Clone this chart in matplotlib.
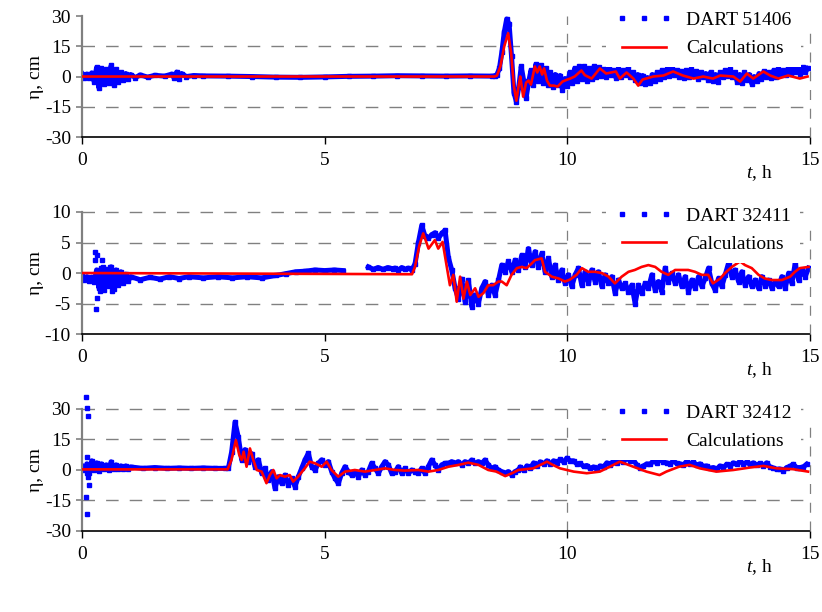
import numpy as np
import matplotlib
matplotlib.use('Agg')
import matplotlib.pyplot as plt
from matplotlib.lines import Line2D

plt.rcParams['font.family'] = ['Liberation Serif', 'DejaVu Serif']
plt.rcParams['mathtext.fontset'] = 'custom'
plt.rcParams['mathtext.rm'] = 'Liberation Serif'
plt.rcParams['mathtext.it'] = 'Liberation Serif:italic'
plt.rcParams['axes.unicode_minus'] = False

BLUE = '#0000ff'
RED = '#ff0000'
GRAY = '#808080'

# ---------------- DART 51406 ----------------
p1_obs_t = [0.0, 0.05, 0.1, 0.15, 0.2, 0.25, 0.3, 0.35, 0.4, 0.45, 0.5, 0.55, 0.6, 0.65, 0.7,
            0.75, 0.8, 0.85, 0.9, 0.95, 1.0, 1.1, 1.2, 1.35, 1.5, 1.7, 1.85, 1.9, 1.95, 2.0,
            2.05, 2.15, 2.3, 2.5, 3.0, 3.5, 4.0, 4.5, 5.0, 5.5, 6.0, 6.5, 7.0, 7.5, 8.0, 8.45]
p1_obs_v = [1.5, -0.5, 1.2, -0.8, 1.8, -2.5, 4.5, -5.8, 4.0, -3.5, 3.5, -3.0, 5.5, -4.0, 3.5,
            -2.5, 2.0, -1.5, 1.5, -1.0, 1.0, -0.5, 0.8, -0.3, 0.6, 0.2, 1.2, -0.8, 2.2, -1.0,
            1.5, 0.0, 0.5, 0.3, 0.2, 0.0, -0.3, -0.4, -0.2, 0.1, 0.2, 0.4, 0.3, 0.2, 0.3, 0.2]
# 8.50 ... 14.95 h, every 0.05 h
p1_wave_span = (8.5, 14.95)
p1_wave_v = [0.3, 1, 4, 12, 22, 28.5, 26, 10, -8, -12.5,
             -5, 5, -2, -10.5, -3, 3, -4, 6, -2, 5.5,
             -3, 4, -4, 2, -5, 1, -4, 0.5, -6.5, -1,
             -4.5, 2, -3, 4, -2, 5, -1, 5, -2, 4,
             -1, 5, 0, 4.5, 0.5, 3.5, 0, 4, 1, 3,
             -0.5, 3.5, 0, 3, 1, 4, 0, 2, -1.5, 1,
             -3, 0.5, -3.5, -0.5, -3, 1, -2, 2, -1, 3,
             0, 3.5, 0.5, 4, 1, 3, 0, 2.5, -0.5, 3,
             0, 3.5, 0.5, 2.5, -1, 2, 0, 1.5, -1.5, 2,
             -2, 1, -2.5, 2, 0, 3, 0.5, 3.5, 0, 2,
             -2.5, 1, -3, 2, -1.5, 1, -3.5, 0, -2, 1.5,
             -1, 2.5, 0, 2, -0.5, 3, 0, 3.5, 1, 3,
             1, 4, 1.5, 4, 2, 4.5, 1.5, 4.5, 2, 4]
p1_calc_t = [0, 8.5, 8.55, 8.62, 8.7, 8.78, 8.84, 8.9, 8.95, 9.0, 9.03, 9.09, 9.15, 9.2, 9.25,
             9.33, 9.38, 9.43, 9.48, 9.52, 9.58, 9.64, 9.72, 9.8, 9.9, 10.0, 10.06, 10.15,
             10.29, 10.36, 10.5, 10.67, 10.8, 11.0, 11.08, 11.22, 11.36, 11.46, 11.55, 11.77,
             11.98, 12.18, 12.38, 12.6, 12.8, 13.0, 13.15, 13.42, 13.56, 13.7, 13.83, 14.04,
             14.18, 14.35, 14.55, 14.79, 14.95]
p1_calc_v = [0, 0, 0.5, 5, 15, 21.5, 12, -5, -12, -4, 0, -10, -3, -2, -4,
             5, 2, 5, 1, 4, -2, -4.5, -4.5, -5, -2.5, -1.5, -1, 0,
             3, 0.7, -1, 4, 1.5, 2.5, -1, 2, -1, -4.5, -1.5, 0,
             0.5, 2.5, 0.5, -1, 0, -1, 0.5, 0, -2.5, 1.5, -1, 2.5,
             0.5, -1, 0.5, -1, 0]
p1_out_t = []
p1_out_v = []

# ---------------- DART 32411 ----------------
p2_obs_t = [0.0, 0.05, 0.1, 0.15, 0.2, 0.25, 0.3, 0.35, 0.4, 0.45, 0.5, 0.55, 0.6, 0.65, 0.7,
            0.75, 0.8, 0.85, 0.9, 0.95, 1.0, 1.2, 1.4, 1.6, 1.8, 2.0, 2.2, 2.5, 2.8, 3.1,
            3.4, 3.7, 4.0, 4.2, 4.4, 4.6, 4.8, 5.0, 5.2, 5.38]
p2_obs_v = [-0.5, -1.2, -0.6, -1.3, -0.7, -1.5, 0.5, -2.5, 0.8, -2.8, 0.6, -2.2, 1.0, -2.6, 0.5,
            -2.0, 0.2, -1.6, -0.2, -1.3, -0.6, -1.1, -0.7, -1.0, -0.6, -0.9, -0.6, -0.8, -0.6, -0.8,
            -0.6, -0.8, -0.4, -0.1, 0.2, 0.3, 0.5, 0.4, 0.5, 0.4]
p2_obs2_t = [5.9, 6.0, 6.1, 6.2, 6.3, 6.4]
p2_obs2_v = [1.0, 0.6, 0.9, 0.6, 0.9, 0.7]
# 6.45 ... 14.97 h, evenly spaced
p2_wave_span = (6.45, 14.97)
p2_wave_v = [0.8, 0.5, 0.9, 0.6, 0.8, 0.5, 1.5, 5.0, 7.8, 6.0,
             5.7, 6.3, 6.6, 5.7, 6.5, 7.0, 2.5, 0.5, -2.5, -4.2,
             -1.0, -4.7, -1.2, -5.5, -3.6, -5.0, -2.5, -1.4, -3.6, -2.0,
             -3.6, -1.2, 1.3, 0.2, 1.9, 0.2, 2.1, 0.5, 2.9, 1.0,
             4.0, 1.3, 3.5, 1.0, 3.2, 0.2, 2.4, -0.6, 1.3, -1.15,
             0.5, -1.7, -0.3, -2.2, -0.3, 0.8, -2.0, 0.2, -1.7, 0.5,
             -1.4, 0.2, -2.2, -0.3, -1.7, -0.6, -3.3, -1.15, -2.5, -1.7,
             -3.05, -2.0, -5.0, -2.0, -3.3, -1.7, -2.5, -0.3, -2.8, -1.4,
             -3.05, 0.8, -1.4, -0.05, -1.7, -0.3, -2.2, -0.6, -3.05, -1.15,
             -2.5, -0.6, -2.2, -0.87, 0.8, -1.7, -2.8, -0.87, -2.2, -0.3,
             1.6, -0.6, 0.5, -1.4, 0.2, -2.0, -0.6, -2.2, -1.15, -2.5,
             -0.6, -2.2, -1.15, -2.5, -1.4, -2.2, -0.6, -2.5, -0.05, -1.7,
             1.6, -1.15, 0.5, -0.6, 0.8]
p2_calc_t = [0, 6.8, 6.86, 6.95, 7.03, 7.14, 7.27, 7.34, 7.43, 7.51, 7.58, 7.65, 7.72, 7.79,
             7.86, 7.93, 8.0, 8.1, 8.17, 8.27, 8.37, 8.47, 8.58, 8.65, 8.75, 8.85, 8.96, 9.06,
             9.16, 9.27, 9.33, 9.47, 9.54, 9.68, 9.82, 9.95, 10.05, 10.19, 10.3, 10.43, 10.57,
             10.71, 10.85, 10.98, 11.12, 11.26, 11.39, 11.53, 11.67, 11.81, 11.94, 12.08, 12.22,
             12.36, 12.49, 12.63, 12.77, 12.9, 13.0, 13.15, 13.25, 13.39, 13.56, 13.66, 13.8,
             13.94, 14.07, 14.21, 14.42, 14.59, 14.69, 14.79, 14.97]
p2_calc_v = [0, -0.2, 1.0, 4.5, 6.5, 4.0, 5.4, 4.0, 5.1, 1.3, -2.0, -0.3, -4.7, -0.6,
             -4.2, -1.4, -3.6, -2.5, -3.9, -3.3, -2.0, -2.0, -1.4, -1.4, -2.0, -0.3, 0.8, 1.0,
             0.8, 1.6, 2.1, 2.4, 0.2, -0.6, -0.9, -1.4, -1.1, -0.3, 0.8, 0.2, 0.2,
             0.0, -0.6, -1.7, -0.6, 0.2, 0.5, 1.0, 1.3, 1.0, 0.2, -0.3, 0.5,
             0.5, 0.5, 0.2, -0.3, -0.3, -1.7, -0.9, 0.0, 1.0, 1.9, 1.3, 0.8,
             -0.3, -0.9, -1.15, -1.15, -0.6, 0.2, 0.8, 1.0]
p2_out_t = [0.27, 0.30, 0.27, 0.41, 0.30, 0.29, 0.37, 0.61, 0.44, 0.58]
p2_out_v = [3.5, 3.0, 2.2, 2.1, -4.1, -5.9, -3.0, -3.0, 1.0, 1.0]

# ---------------- DART 32412 ----------------
p3_obs_t = [0.0, 0.05, 0.1, 0.15, 0.2, 0.25, 0.3, 0.35, 0.4, 0.45, 0.5, 0.55, 0.6, 0.65, 0.7,
            0.75, 0.8, 0.85, 0.9, 0.95, 1.0, 1.25, 1.5, 1.75, 2.0, 2.25, 2.5, 2.75, 2.95]
p3_obs_v = [2, 0, 3, -1.5, 4.5, 0, 3.5, -0.5, 3, 0.5, 2.5, 0, 4, 0.5, 2.5,
            0.5, 2, 0.5, 2, 0.5, 1.5, 0.8, 1.2, 0.8, 1.0, 0.8, 1.0, 0.8, 0.8]
# 3.015 ... 8.99 h, evenly spaced
p3_wave_span = (3.015, 8.99)
p3_wave_v = [0.8, 9, 23.5, 16, 5, 10, 4, 8, 1.6, 5,
             -1.6, 0.8, -4.9, -0.8, -9.0, -3.3, -6.6, -2.5, -7.4, -4.1,
             -8.2, -3.3, 0.8, 5, 8.2, 1.6, 0, 3.3, 5, 2.5,
             4.1, -0.8, -4.1, -6.6, -1.6, 1.6, -0.8, -2.5, -0.8, -3.3,
             0, -2.5, -0.8, 3.3, 0.8, -1.6, 1.6, 4.1, 2.5, -1.6,
             -0.8, 1.6, -1.6, 0.8, -1.6, 0, -0.8, -1.6, 0.8, -1.6,
             1.6, 4.9, 2.5, 0, 2.5, 3.3, 3.3, 4.1, 3.3, 4.1,
             2.5, 4.1, 3.3, 4.9, 3.3, 4.1, 3.3, 4.9, 2.5, 0.8,
             1.6, 0, -0.8, -1.6, -0.8, -2.5, -0.8, 0]
# 9.03 ... 14.93 h, evenly spaced
p3_wave2_span = (9.03, 14.93)
p3_wave2_v = [1.5, -0.2, 2.0, 0.8, 3.5, 2.0, 4.0, 3.0, 4.5, 3.0,
              4.5, 3.5, 5.2, 4.0, 5.8, 4.5, 4.5, 3.0, 3.2, 1.8,
              2.2, 0.8, 1.5, 0.3, 2.0, 1.5, 3.5, 2.5, 4.5, 3.2,
              5.0, 4.0, 6.0, 4.5, 4.8, 2.5, 1.2, 2.0, 3.0, 2.8,
              4.5, 3.5, 5.2, 3.8, 3.5, 3.0, 4.5, 3.2, 3.0, 2.5,
              4.3, 3.0, 3.8, 2.5, 3.0, 1.8, 2.0, 0.8, 1.2, 0.5,
              2.0, 1.2, 2.8, 2.0, 3.5, 2.8, 4.3, 3.0, 3.8, 2.8,
              3.5, 2.5, 3.2, 2.2, 3.5, 1.5, 1.0, 0.3, 0.5, -0.3,
              1.2, 1.8, 2.8, 1.2, 1.2, 1.5, 2.8]
p3_calc_t = [0, 3.0, 3.08, 3.17, 3.24, 3.29, 3.33, 3.39, 3.46, 3.53, 3.6, 3.7, 3.8, 3.87,
             3.94, 4.01, 4.08, 4.18, 4.28, 4.35, 4.45, 4.59, 4.69, 4.8, 4.94, 5.04, 5.14,
             5.28, 5.42, 5.62, 5.83, 6.04, 6.24, 6.45, 6.65, 6.93, 7.14, 7.34, 7.55, 7.76,
             7.96, 8.17, 8.37, 8.54, 8.72, 8.86, 8.99, 9.3, 9.58, 9.7, 9.85, 10.13, 10.4,
             10.67, 10.95, 11.08, 11.36, 11.63, 11.9, 12.04, 12.3, 12.52, 12.73, 13.07,
             13.42, 13.76, 14.04, 14.31, 14.65, 14.96]
p3_calc_v = [0.3, 0.3, 5.0, 14.7, 7.4, 4.9, 9.0, 1.6, 10.6, 4.9, 0.0, -0.8, -6.5, -2.5,
             0.0, -4.1, -2.5, -3.3, -2.5, -5.7, -3.3, 0.8, 4.1, 3.3, 1.6, 4.1, 0.0,
             -3.3, -0.8, 0.0, -0.8, 0.0, 0.8, 0.0, -0.3, 0.0, -0.8, 0.0, 1.6, 2.5,
             3.6, 2.5, 0.0, -0.8, -3.0, -1.6, 0.0, 0.8, 4.1, 2.5, 0.8, -0.8, -1.6,
             -0.8, 2.5, 4.1, 1.6, -0.8, -2.5, -0.8, 1.6, 2.5, 0.8, -0.8,
             0.0, 1.2, 2.0, 0.8, 0.4, -0.8]
p3_out_t = [0.09, 0.1, 0.12, 0.09, 0.1, 0.14, 0.1, 0.12, 0.1]
p3_out_v = [36.0, 30.3, 26.7, -13.1, -21.6, -7.4, 6.5, -3.3, -1.6]


def spread(span, vals):
    return np.linspace(span[0], span[1], len(vals))


panels = [
    dict(name='DART 51406', ylim=(-30, 30), yticks=[-30, -15, 0, 15, 30], hgrid=[15, -15],
         obs=[(p1_obs_t + list(spread(p1_wave_span, p1_wave_v)), p1_obs_v + p1_wave_v)],
         out=(p1_out_t, p1_out_v), calc=(p1_calc_t, p1_calc_v)),
    dict(name='DART 32411', ylim=(-10, 10), yticks=[-10, -5, 0, 5, 10], hgrid=[10, 5, -5],
         obs=[(p2_obs_t, p2_obs_v),
              (p2_obs2_t + list(spread(p2_wave_span, p2_wave_v)), p2_obs2_v + p2_wave_v)],
         out=(p2_out_t, p2_out_v), calc=(p2_calc_t, p2_calc_v)),
    dict(name='DART 32412', ylim=(-30, 30), yticks=[-30, -15, 0, 15, 30], hgrid=[30, 15, -15],
         obs=[(p3_obs_t + list(spread(p3_wave_span, p3_wave_v)) + list(spread(p3_wave2_span, p3_wave2_v)),
               p3_obs_v + p3_wave_v + p3_wave2_v)],
         out=(p3_out_t, p3_out_v), calc=(p3_calc_t, p3_calc_v)),
]

fig = plt.figure(figsize=(8.22, 6.12), dpi=100)
boxes = [(0.0998, 0.7761, 0.8856, 0.1977),
         (0.0998, 0.4542, 0.8856, 0.1994),
         (0.0998, 0.1324, 0.8856, 0.1993)]

for box, p in zip(boxes, panels):
    ax = fig.add_axes(box)
    ax.set_xlim(0, 15)
    ax.set_ylim(*p['ylim'])

    for y in p['hgrid']:
        ax.axhline(y, color=GRAY, lw=1.0, ls=(0, (9, 8)), zorder=1, clip_on=False)
    ax.axvline(10, color=GRAY, lw=0.9, ls=(0, (8, 7)), zorder=1)
    # the right-hand line shows below the legend's first row
    ax.axvline(15, ymax=0.885, color=GRAY, lw=0.9, ls=(0, (8, 7)), zorder=6, clip_on=False)

    for t, v in p['obs']:
        ax.plot(t, v, color=BLUE, lw=3.6, marker='s', ms=2.8, zorder=2)
    if p['out'][0]:
        ax.plot(p['out'][0], p['out'][1], ls='none', marker='s', ms=3.5, color=BLUE,
                zorder=2, clip_on=False)
    ax.plot(p['calc'][0], p['calc'][1], color=RED, lw=1.9, zorder=3)

    ax.spines['top'].set_visible(False)
    ax.spines['right'].set_visible(False)
    ax.spines['left'].set_color(GRAY)
    ax.spines['left'].set_linewidth(1.6)
    ax.spines['bottom'].set_color('black')
    ax.spines['bottom'].set_linewidth(1.2)
    ax.spines['bottom'].set_zorder(4)

    ax.set_xticks([0, 5, 10, 15])
    ax.set_yticks(p['yticks'])
    ax.tick_params(axis='y', direction='out', length=4.5, width=1.2, color=GRAY,
                   pad=3.5, labelsize=14)
    ax.tick_params(axis='x', direction='out', length=5, width=1.0, color='black',
                   pad=6, labelsize=14)

    ax.set_ylabel('η, cm', fontsize=14)
    ax.yaxis.set_label_coords(-0.052, 0.5)
    ax.annotate('$t$, h', xy=(0.948, 0), xycoords='axes fraction', xytext=(0, -26),
                textcoords='offset points', ha='right', va='center', fontsize=14)

    handles = [Line2D([], [], ls='none', marker='s', ms=3.2, color=BLUE),
               Line2D([], [], color=RED, lw=1.9)]
    leg = ax.legend(handles, [p['name'], 'Calculations'], loc='upper left',
                    bbox_to_anchor=(0.72, 1.12), frameon=True, fontsize=14, numpoints=3,
                    handlelength=2.9, handletextpad=0.7, labelspacing=0.56,
                    borderpad=0.5, borderaxespad=0, fancybox=False)
    leg.get_frame().set_facecolor('white')
    leg.get_frame().set_edgecolor('none')
    leg.get_frame().set_alpha(1.0)
    leg.set_zorder(5)

fig.savefig('out.png', dpi=100)
